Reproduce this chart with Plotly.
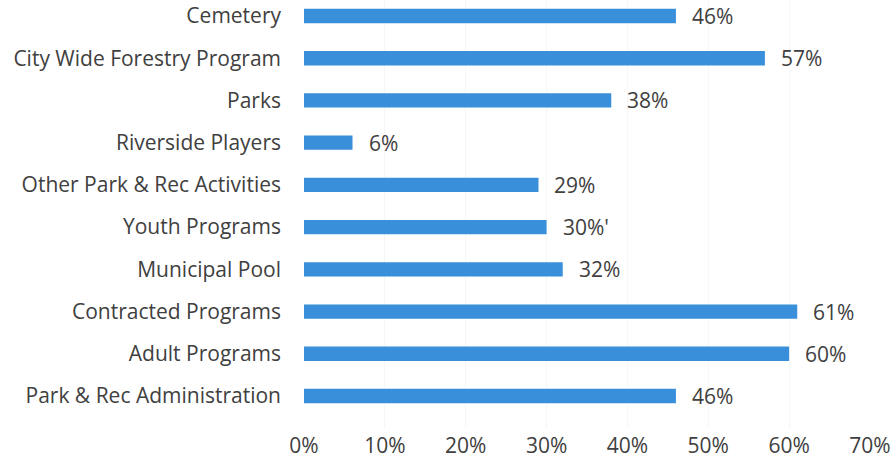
import plotly.graph_objects as go

categories = ["Cemetery", "City Wide Forestry Program", "Parks", "Riverside Players",
              "Other Park & Rec Activities", "Youth Programs", "Municipal Pool",
              "Contracted Programs", "Adult Programs", "Park & Rec Administration"]
values = [0.46, 0.57, 0.38, 0.06, 0.29, 0.30, 0.32, 0.61, 0.60, 0.46]
labels = ["46%", "57%", "38%", "6%", "29%", "30%'", "32%", "61%", "60%", "46%"]
tick_vals = [0, 0.1, 0.2, 0.3, 0.4, 0.5, 0.6, 0.7]
tick_text = ["0%", "10%", "20%", "30%", "40%", "50%", "60%", "70%"]

FONT = "Open Sans, sans-serif"
TXT = "#404040"
FS = 21

fig = go.Figure()
fig.add_trace(go.Bar(
    x=values, y=categories, orientation="h",
    marker=dict(color="#3a8fdb", line=dict(width=0)),
    width=0.34,
))

for c, v, t in zip(categories, values, labels):
    fig.add_annotation(x=v, y=c, text=t, showarrow=False, xanchor="left",
                       xshift=14, font=dict(family=FONT, size=FS, color=TXT))

fig.update_layout(
    width=896, height=461,
    margin=dict(l=304, r=26, t=0, b=33),
    paper_bgcolor="white", plot_bgcolor="white",
    showlegend=False,
    font=dict(family=FONT, size=FS, color=TXT),
    xaxis=dict(range=[0, 0.7], tickvals=tick_vals, ticktext=tick_text,
               showgrid=True, gridcolor="#f6f6f6", zeroline=False,
               showline=False, ticks="", ticklabelstandoff=3,
               tickfont=dict(size=FS, color=TXT)),
    yaxis=dict(categoryorder="array", categoryarray=categories,
               range=[9.758, -0.379], showgrid=False, zeroline=False,
               ticks="", ticklabelstandoff=22, tickfont=dict(size=FS, color=TXT)),
)

fig.write_html("out.html")
